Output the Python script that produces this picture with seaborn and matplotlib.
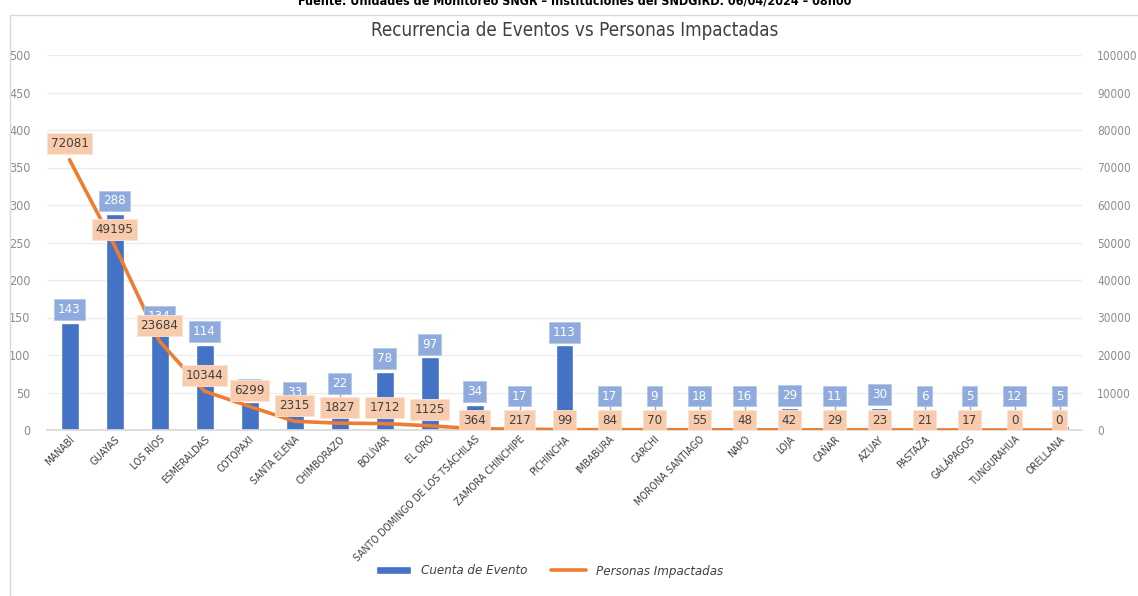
import numpy as np
import matplotlib
matplotlib.use("Agg")
import matplotlib.pyplot as plt
from matplotlib.patches import Rectangle, Patch
from matplotlib.lines import Line2D
import seaborn as sns

provincias = ["MANABÍ", "GUAYAS", "LOS RÍOS", "ESMERALDAS", "COTOPAXI", "SANTA ELENA",
              "CHIMBORAZO", "BOLÍVAR", "EL ORO", "SANTO DOMINGO DE LOS TSÁCHILAS",
              "ZAMORA CHINCHIPE", "PICHINCHA", "IMBABURA", "CARCHI", "MORONA SANTIAGO",
              "NAPO", "LOJA", "CAÑAR", "AZUAY", "PASTAZA", "GALÁPAGOS", "TUNGURAHUA", "ORELLANA"]
eventos = [143, 288, 134, 114, 37, 33, 22, 78, 97, 34, 17, 113, 17, 9, 18, 16, 29, 11, 30, 6, 5, 12, 5]
personas = [72081, 49195, 23684, 10344, 6299, 2315, 1827, 1712, 1125, 364, 217, 99, 84, 70,
            55, 48, 42, 29, 23, 21, 17, 0, 0]

AZUL = "#4472C4"
NARANJA = "#ED7D31"
GRIS = "#8C8C8C"

sns.set_theme(style="white")
plt.rcParams["font.family"] = ["DejaVu Sans"]
plt.rcParams["font.stretch"] = "condensed"

W, H = 1138, 596
fig = plt.figure(figsize=(W / 100, H / 100), dpi=100)
ax = fig.add_axes([47 / W, 1 - 430 / H, (1082 - 47) / W, 375 / H])

n = len(provincias)
sns.barplot(x=provincias, y=eventos, color=AZUL, saturation=1, width=0.4, ax=ax)
ax.set_xlim(-0.5, n - 0.5)
ax.set_ylim(0, 500)
ax.set_yticks(np.arange(0, 501, 50))
ax.grid(axis="y", color="#EBEBEB", lw=0.9)
ax.set_axisbelow(True)
for s in ["top", "left", "right"]:
    ax.spines[s].set_visible(False)
ax.spines["bottom"].set_color("#D9D9D9")
ax.tick_params(axis="y", length=0, pad=12, labelcolor=GRIS, labelsize=9)
ax.tick_params(axis="x", length=0, pad=3)
ax.set_xticks(range(n))
ax.set_xticklabels(provincias, rotation=45, ha="right", rotation_mode="anchor",
                   fontsize=7.5, color="#404040")
ax.set_xlabel("")
ax.set_ylabel("")

ax2 = ax.twinx()
sns.lineplot(x=np.arange(n), y=personas, color=NARANJA, lw=2.6, ax=ax2, sort=False)
ax2.set_ylim(0, 100000)
ax2.set_yticks(np.arange(0, 100001, 10000))
ax2.set_ylabel("")
for s in ax2.spines.values():
    s.set_visible(False)
ax2.tick_params(axis="y", length=0, pad=11, labelcolor=GRIS, labelsize=8.5)

# etiquetas de datos, alturas en pixeles sobre la base
px_izq = 375 / 500
px_der = 375 / 100000

for i in range(n):
    v = personas[i]
    yo = v * px_der + 16 if v > 1000 else 10
    b = eventos[i] * px_izq
    yb = b + 13
    if eventos[i] < 30 and abs(yb - yo) < 19:
        yb = yo + 24
    if yb - 9 - b > 4:
        ax2.plot([i, i], [b / px_izq, (yb - 9) / px_izq], color="#A6A6A6", lw=1,
                 transform=ax.transData, zorder=4, clip_on=False)
    ax2.text(i, yb / px_izq, str(eventos[i]), transform=ax.transData, ha="center", va="center",
             fontsize=9.5, color="white", zorder=5,
             bbox=dict(boxstyle="square,pad=0.3", fc="#8FAADC", ec="#B4C7E7", lw=0.6))
    ax2.text(i, yo / px_izq, str(v), transform=ax.transData, ha="center", va="center",
             fontsize=9.5, color="#404040", zorder=6,
             bbox=dict(boxstyle="square,pad=0.3", fc="#F8CBAD", ec="#FBE5D6", lw=0.6))

fig.text(575 / W, 1 - 36 / H, "Recurrencia de Eventos vs Personas Impactadas",
         ha="center", va="baseline", fontsize=13.5, color="#404040")
fig.text(575 / W, 1 - 5 / H,
         "Fuente: Unidades de Monitoreo SNGR – Instituciones del SNDGIRD. 06/04/2024 – 08h00",
         ha="center", va="baseline", fontsize=9, weight="bold", color="black")

fig.patches.append(Rectangle((10 / W, -0.1), 1.2, 1.1 - 15 / H, transform=fig.transFigure,
                             fill=False, edgecolor="#D9D9D9", lw=1))

handles = [Patch(facecolor=AZUL, label="Cuenta de Evento"),
           Line2D([0], [0], color=NARANJA, lw=2.6, label="Personas Impactadas")]
fig.legend(handles=handles, loc="center", bbox_to_anchor=(550 / W, 1 - 571 / H), ncol=2,
           frameon=False, prop={"style": "italic", "size": 9.5}, handlelength=2.6,
           handleheight=0.5, columnspacing=1.8, labelcolor="#404040")

fig.savefig("out.png", dpi=100)
